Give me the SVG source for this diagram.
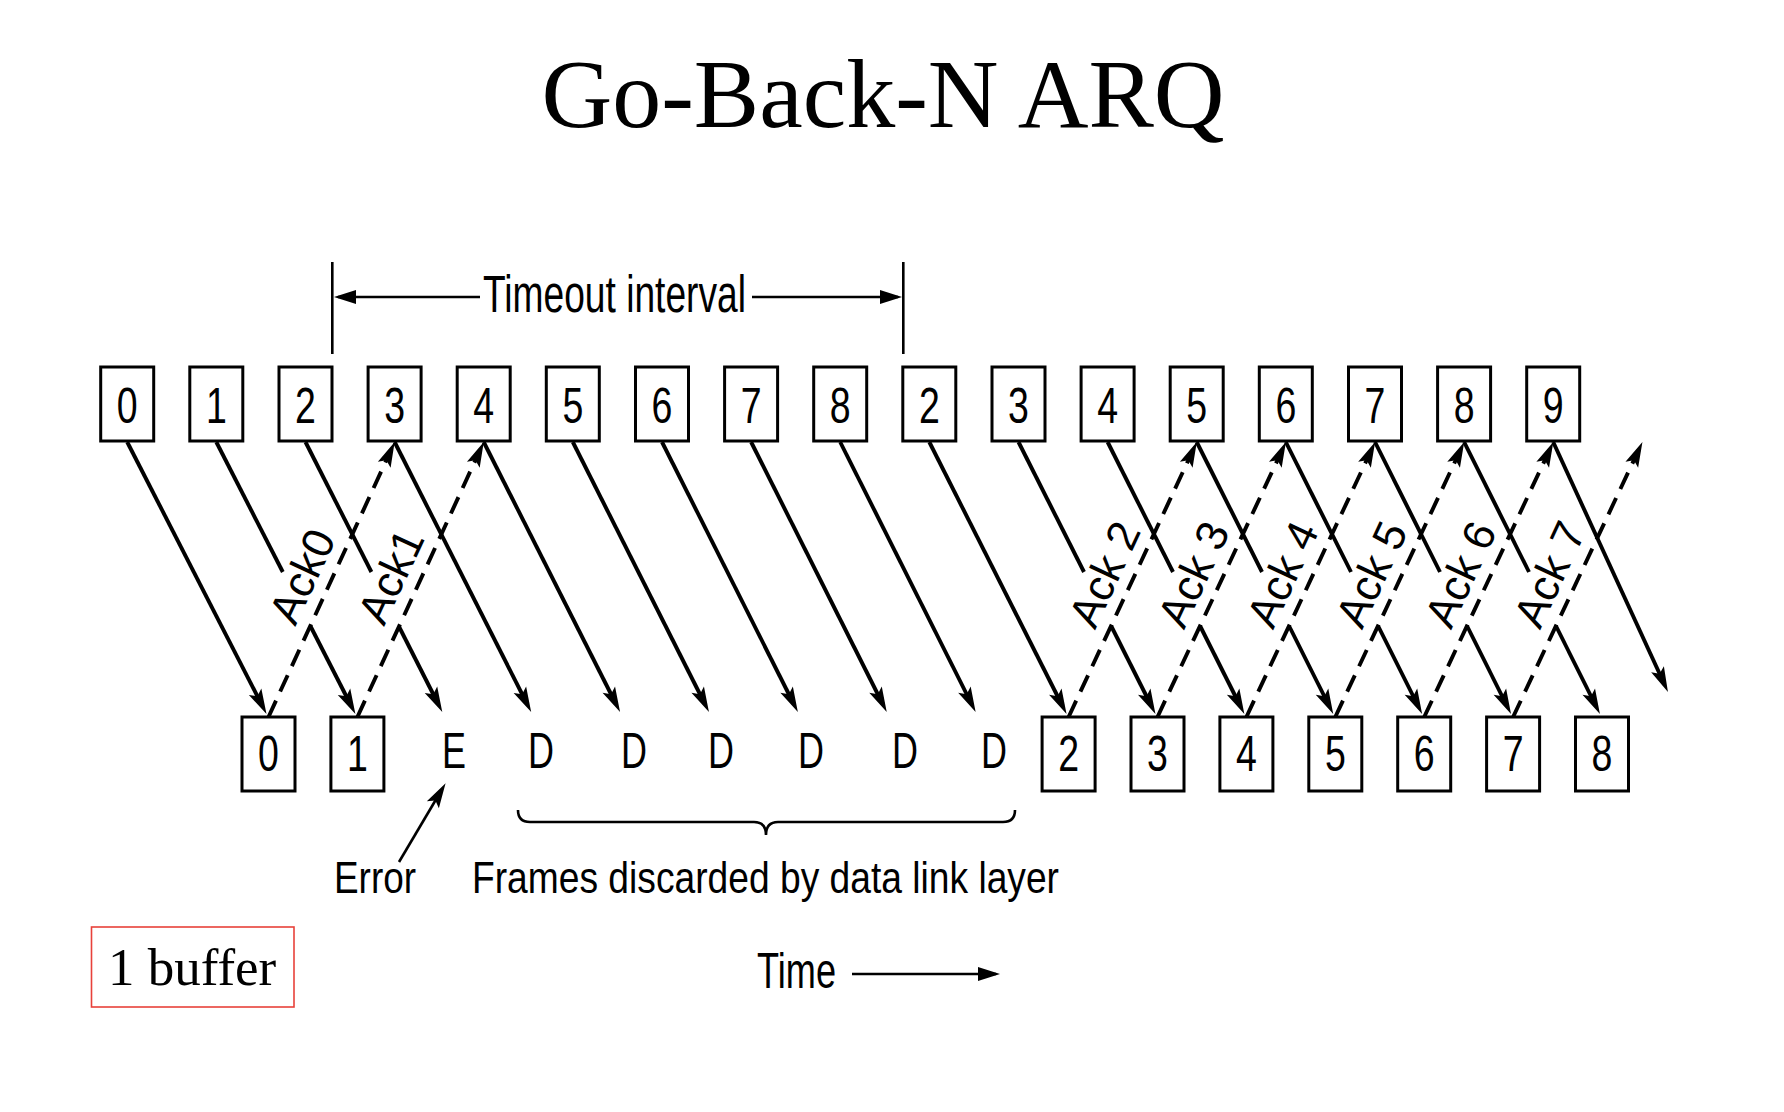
<svg xmlns="http://www.w3.org/2000/svg" width="1784" height="1112" viewBox="0 0 1784 1112">
<style>
.box{fill:#fff;stroke:#000;stroke-width:3}
.num{font-family:"Liberation Sans",Arial,sans-serif;font-size:50px;fill:#000;text-anchor:middle}
.lbl{font-family:"Liberation Sans",Arial,sans-serif;fill:#000}
.ack{font-family:"Liberation Sans",Arial,sans-serif;font-size:44px;fill:#000;text-anchor:middle}
.data{stroke:#000;stroke-width:3.9;fill:none;marker-end:url(#ah)}
.plain{stroke:#000;stroke-width:3.9;fill:none}
.dash{stroke:#000;stroke-width:3.9;fill:none;stroke-dasharray:18 10;marker-end:url(#ah)}
.thin{stroke:#000;stroke-width:2.6;fill:none}
.serif{font-family:"Liberation Serif","Times New Roman",serif;fill:#000}
</style>
<defs>
<marker id="ah" markerUnits="userSpaceOnUse" viewBox="-17 -8 28 16" markerWidth="28" markerHeight="16" refX="0" refY="0" orient="auto">
<path d="M9,0 L-16,-7 L-11,0 L-16,7 Z" fill="#000"/>
</marker>
<marker id="ah2" markerUnits="userSpaceOnUse" viewBox="-19 -8 26 16" markerWidth="26" markerHeight="16" refX="0" refY="0" orient="auto">
<path d="M4,0 L-18,-7 L-18,7 Z" fill="#000"/>
</marker>
</defs>

<text class="serif" x="883" y="127" font-size="98" text-anchor="middle">Go-Back-N ARQ</text>

<g id="timeout">
<line class="thin" x1="332.3" y1="262" x2="332.3" y2="354"/>
<line class="thin" x1="903.3" y1="262" x2="903.3" y2="354"/>
<line class="thin" x1="480" y1="297" x2="338" y2="297" style="marker-end:url(#ah2)"/>
<line class="thin" x1="752" y1="297" x2="898" y2="297" style="marker-end:url(#ah2)"/>
<text class="lbl" x="483" y="312" font-size="51" textLength="263" lengthAdjust="spacingAndGlyphs">Timeout interval</text>
</g>

<g id="sender">
<g id="s0"><rect class="box" x="100.7" y="367" width="53" height="74"/><text class="num" transform="translate(127.2,423) scale(0.75,1)">0</text></g>
<g id="s1"><rect class="box" x="189.8" y="367" width="53" height="74"/><text class="num" transform="translate(216.3,423) scale(0.75,1)">1</text></g>
<g id="s2"><rect class="box" x="279" y="367" width="53" height="74"/><text class="num" transform="translate(305.5,423) scale(0.75,1)">2</text></g>
<g id="s3"><rect class="box" x="368.1" y="367" width="53" height="74"/><text class="num" transform="translate(394.6,423) scale(0.75,1)">3</text></g>
<g id="s4"><rect class="box" x="457.2" y="367" width="53" height="74"/><text class="num" transform="translate(483.7,423) scale(0.75,1)">4</text></g>
<g id="s5"><rect class="box" x="546.3" y="367" width="53" height="74"/><text class="num" transform="translate(572.8,423) scale(0.75,1)">5</text></g>
<g id="s6"><rect class="box" x="635.5" y="367" width="53" height="74"/><text class="num" transform="translate(662,423) scale(0.75,1)">6</text></g>
<g id="s7"><rect class="box" x="724.6" y="367" width="53" height="74"/><text class="num" transform="translate(751.1,423) scale(0.75,1)">7</text></g>
<g id="s8"><rect class="box" x="813.7" y="367" width="53" height="74"/><text class="num" transform="translate(840.2,423) scale(0.75,1)">8</text></g>
<g id="s9"><rect class="box" x="902.8" y="367" width="53" height="74"/><text class="num" transform="translate(929.3,423) scale(0.75,1)">2</text></g>
<g id="s10"><rect class="box" x="992" y="367" width="53" height="74"/><text class="num" transform="translate(1018.5,423) scale(0.75,1)">3</text></g>
<g id="s11"><rect class="box" x="1081.1" y="367" width="53" height="74"/><text class="num" transform="translate(1107.6,423) scale(0.75,1)">4</text></g>
<g id="s12"><rect class="box" x="1170.2" y="367" width="53" height="74"/><text class="num" transform="translate(1196.7,423) scale(0.75,1)">5</text></g>
<g id="s13"><rect class="box" x="1259.3" y="367" width="53" height="74"/><text class="num" transform="translate(1285.8,423) scale(0.75,1)">6</text></g>
<g id="s14"><rect class="box" x="1348.5" y="367" width="53" height="74"/><text class="num" transform="translate(1375,423) scale(0.75,1)">7</text></g>
<g id="s15"><rect class="box" x="1437.6" y="367" width="53" height="74"/><text class="num" transform="translate(1464.1,423) scale(0.75,1)">8</text></g>
<g id="s16"><rect class="box" x="1526.7" y="367" width="53" height="74"/><text class="num" transform="translate(1553.2,423) scale(0.75,1)">9</text></g>
</g>

<g id="receiver">
<g id="r0"><rect class="box" x="242" y="717" width="53" height="74"/><text class="num" transform="translate(268.5,771) scale(0.75,1)">0</text></g>
<g id="r1"><rect class="box" x="330.9" y="717" width="53" height="74"/><text class="num" transform="translate(357.4,771) scale(0.75,1)">1</text></g>
<g id="r2"><text class="num" transform="translate(454,768) scale(0.72,1)">E</text></g>
<g id="r3"><text class="num" transform="translate(541,768) scale(0.72,1)">D</text></g>
<g id="r4"><text class="num" transform="translate(634,768) scale(0.72,1)">D</text></g>
<g id="r5"><text class="num" transform="translate(721,768) scale(0.72,1)">D</text></g>
<g id="r6"><text class="num" transform="translate(811,768) scale(0.72,1)">D</text></g>
<g id="r7"><text class="num" transform="translate(905,768) scale(0.72,1)">D</text></g>
<g id="r8"><text class="num" transform="translate(994,768) scale(0.72,1)">D</text></g>
<g id="r9"><rect class="box" x="1042.1" y="717" width="53" height="74"/><text class="num" transform="translate(1068.6,771) scale(0.75,1)">2</text></g>
<g id="r10"><rect class="box" x="1131" y="717" width="53" height="74"/><text class="num" transform="translate(1157.5,771) scale(0.75,1)">3</text></g>
<g id="r11"><rect class="box" x="1219.9" y="717" width="53" height="74"/><text class="num" transform="translate(1246.4,771) scale(0.75,1)">4</text></g>
<g id="r12"><rect class="box" x="1308.8" y="717" width="53" height="74"/><text class="num" transform="translate(1335.3,771) scale(0.75,1)">5</text></g>
<g id="r13"><rect class="box" x="1397.7" y="717" width="53" height="74"/><text class="num" transform="translate(1424.2,771) scale(0.75,1)">6</text></g>
<g id="r14"><rect class="box" x="1486.6" y="717" width="53" height="74"/><text class="num" transform="translate(1513.1,771) scale(0.75,1)">7</text></g>
<g id="r15"><rect class="box" x="1575.5" y="717" width="53" height="74"/><text class="num" transform="translate(1602,771) scale(0.75,1)">8</text></g>
</g>

<g id="connectors">
<line class="data" x1="127.2" y1="442" x2="262.4" y2="706"/>
<line class="plain" x1="216.3" y1="442" x2="282.8" y2="572"/>
<line class="data" x1="310.4" y1="626" x2="351.3" y2="706"/>
<line class="plain" x1="305.5" y1="442" x2="371.4" y2="572"/>
<line class="data" x1="398.7" y1="626" x2="438.2" y2="704"/>
<line class="data" x1="394.6" y1="442" x2="527.1" y2="704"/>
<line class="data" x1="483.7" y1="442" x2="616" y2="704"/>
<line class="data" x1="572.8" y1="442" x2="704.9" y2="704"/>
<line class="data" x1="662" y1="442" x2="793.8" y2="704"/>
<line class="data" x1="751.1" y1="442" x2="882.7" y2="704"/>
<line class="data" x1="840.2" y1="442" x2="971.6" y2="704"/>
<line class="data" x1="929.3" y1="442" x2="1062.5" y2="706"/>
<line class="plain" x1="1018.5" y1="442" x2="1084" y2="572"/>
<line class="data" x1="1111.2" y1="626" x2="1151.4" y2="706"/>
<line class="plain" x1="1107.6" y1="442" x2="1173" y2="572"/>
<line class="data" x1="1200.1" y1="626" x2="1240.3" y2="706"/>
<line class="plain" x1="1196.7" y1="442" x2="1262" y2="572"/>
<line class="data" x1="1289.1" y1="626" x2="1329.2" y2="706"/>
<line class="plain" x1="1285.8" y1="442" x2="1351" y2="572"/>
<line class="data" x1="1378.1" y1="626" x2="1418.1" y2="706"/>
<line class="plain" x1="1375" y1="442" x2="1440" y2="572"/>
<line class="data" x1="1467.1" y1="626" x2="1507" y2="706"/>
<line class="plain" x1="1464.1" y1="442" x2="1529" y2="572"/>
<line class="data" x1="1556" y1="626" x2="1595.9" y2="706"/>
<line class="data" x1="1553.2" y1="442" x2="1664.2" y2="683.8"/>

<line class="dash" x1="268.5" y1="717" x2="390.9" y2="450.2"/>
<line class="dash" x1="357.4" y1="717" x2="480" y2="450.2"/>
<line class="dash" x1="1068.6" y1="717" x2="1193" y2="450.2"/>
<line class="dash" x1="1157.5" y1="717" x2="1282.1" y2="450.2"/>
<line class="dash" x1="1246.4" y1="717" x2="1371.3" y2="450.2"/>
<line class="dash" x1="1335.3" y1="717" x2="1460.4" y2="450.2"/>
<line class="dash" x1="1424.2" y1="717" x2="1549.5" y2="450.2"/>
<line class="dash" x1="1513.1" y1="717" x2="1638.6" y2="450.2"/>

<text class="ack" transform="translate(301.8,576) rotate(-65)" y="15.7">Ack0</text>
<text class="ack" transform="translate(390.4,576) rotate(-65)" y="15.7">Ack1</text>
<text class="ack" transform="translate(1104,574) rotate(-65)" y="15.7">Ack 2</text>
<text class="ack" transform="translate(1193,574) rotate(-65)" y="15.7">Ack 3</text>
<text class="ack" transform="translate(1282,574) rotate(-65)" y="15.7">Ack 4</text>
<text class="ack" transform="translate(1371,574) rotate(-65)" y="15.7">Ack 5</text>
<text class="ack" transform="translate(1460,574) rotate(-65)" y="15.7">Ack 6</text>
<text class="ack" transform="translate(1549,574) rotate(-65)" y="15.7">Ack 7</text>

<line class="thin" x1="399" y1="862" x2="441" y2="791" style="marker-end:url(#ah)"/>
<path class="thin" d="M518,810 Q518,822 530,822 L754,822 Q766,822 766,835 Q766,822 778,822 L1003,822 Q1015,822 1015,810"/>
<line class="thin" x1="852" y1="974" x2="996" y2="974" style="marker-end:url(#ah2)"/>
</g>

<g id="labels">
<text class="lbl" x="334" y="893" font-size="45" textLength="82" lengthAdjust="spacingAndGlyphs">Error</text>
<text class="lbl" x="472" y="893" font-size="45" textLength="587" lengthAdjust="spacingAndGlyphs">Frames discarded by data link layer</text>
<text class="lbl" x="757" y="988" font-size="50" textLength="79" lengthAdjust="spacingAndGlyphs">Time</text>
</g>

<g id="buffer">
<rect x="91.5" y="927" width="202.5" height="80" fill="none" stroke="#e8413a" stroke-width="1.6"/>
<text class="serif" x="108" y="985" font-size="53">1 buffer</text>
</g>
</svg>
